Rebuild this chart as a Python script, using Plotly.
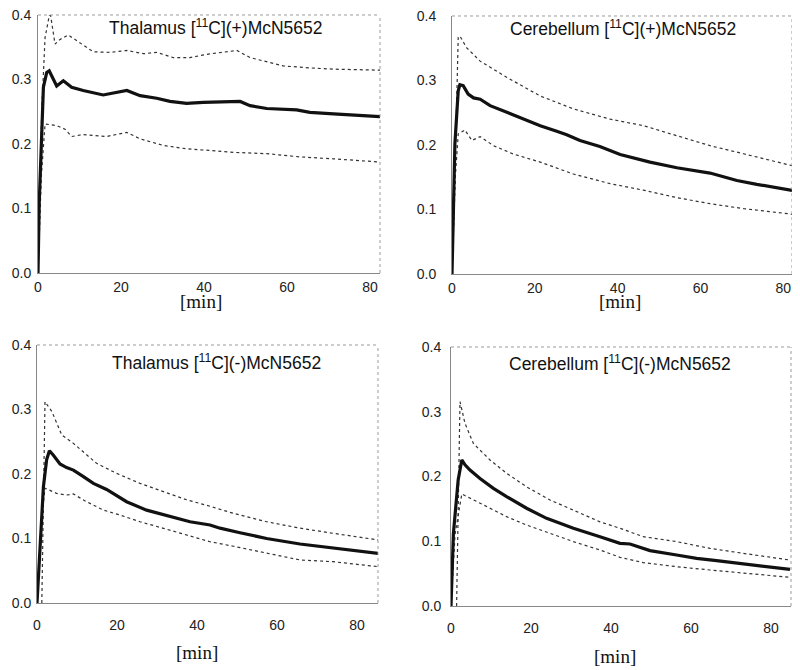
import plotly.graph_objects as go

# ---------------- data ----------------
# Thalamus [11C](+)McN5652
th_p_mean_x = [0, 0.3, 0.9, 1.3, 2.1, 2.7, 4.5, 6.1, 8.1, 10.9, 15.7, 19.0, 21.4, 24.6, 28.6, 31.8, 35.8, 39.8, 47.1, 48.7, 51.1, 55.1, 62.3, 65.5, 71.2, 76.8, 82.4]
th_p_mean_y = [0, 0.11, 0.216, 0.288, 0.311, 0.3135, 0.290, 0.298, 0.288, 0.283, 0.276, 0.280, 0.283, 0.275, 0.271, 0.266, 0.263, 0.2646, 0.266, 0.266, 0.2595, 0.255, 0.253, 0.249, 0.2466, 0.244, 0.2425]
th_p_up_x = [0, 0.9, 1.7, 2.9, 4.1, 5.3, 7.3, 9.3, 13.3, 17.3, 21.4, 25.4, 28.6, 32.6, 36.6, 40.6, 43.9, 47.9, 51.1, 59.1, 65.5, 71.2, 82.4]
th_p_up_y = [0, 0.252, 0.365, 0.405, 0.355, 0.362, 0.369, 0.360, 0.343, 0.342, 0.345, 0.340, 0.342, 0.334, 0.334, 0.339, 0.342, 0.345, 0.334, 0.321, 0.318, 0.316, 0.3145]
th_p_lo_x = [0, 0.8, 1.7, 4.5, 6.5, 8.1, 10.9, 16.5, 21.4, 24.6, 30.2, 35.8, 41.4, 47.1, 55.1, 63.1, 71.2, 82.4]
th_p_lo_y = [0, 0.15, 0.231, 0.2286, 0.223, 0.2116, 0.2147, 0.2116, 0.218, 0.208, 0.1977, 0.1925, 0.190, 0.187, 0.185, 0.180, 0.177, 0.172]

# Cerebellum [11C](+)McN5652
ce_p_mean_x = [0, 0.7, 1.5, 1.9, 2.7, 3.9, 5.2, 6.8, 9.2, 13.2, 17.2, 21.3, 25.3, 27.7, 30.9, 35.7, 40.6, 43.0, 47.8, 54.3, 62.3, 68.8, 73.6, 82.1]
ce_p_mean_y = [0, 0.202, 0.284, 0.2934, 0.292, 0.279, 0.273, 0.271, 0.261, 0.2507, 0.240, 0.230, 0.2214, 0.216, 0.207, 0.1977, 0.1853, 0.181, 0.1735, 0.1647, 0.1565, 0.145, 0.139, 0.1297]
ce_p_up_x = [0, 0.7, 1.5, 1.9, 3.5, 6.8, 13.2, 21.3, 29.3, 38.2, 46.2, 54.3, 62.3, 70.4, 82.1]
ce_p_up_y = [0, 0.15, 0.367, 0.369, 0.351, 0.330, 0.305, 0.276, 0.256, 0.240, 0.230, 0.2147, 0.199, 0.1864, 0.168]
ce_p_lo_x = [0, 0.8, 1.5, 3.1, 4.8, 6.8, 10.0, 14.8, 21.3, 29.3, 38.2, 46.2, 54.3, 62.3, 70.4, 82.1]
ce_p_lo_y = [0, 0.15, 0.217, 0.2234, 0.207, 0.213, 0.199, 0.186, 0.1735, 0.155, 0.140, 0.130, 0.1184, 0.109, 0.1014, 0.0927]

# Thalamus [11C](-)McN5652
th_m_mean_x = [0, 1.6, 2.4, 3.1, 4.1, 5.75, 7.4, 9.1, 11.6, 14.1, 17.4, 19.9, 22.4, 27.4, 33.25, 38.25, 43.25, 45.75, 50.75, 57.4, 65.75, 74.1, 79.9, 85.3]
th_m_mean_y = [0, 0.180, 0.222, 0.236, 0.229, 0.2155, 0.210, 0.206, 0.196, 0.1855, 0.176, 0.166, 0.157, 0.144, 0.134, 0.126, 0.121, 0.116, 0.109, 0.100, 0.0915, 0.0848, 0.081, 0.077]
th_m_up_x = [1.2, 2.0, 3.7, 6.2, 9.1, 14.9, 19.9, 25.75, 31.6, 37.4, 43.25, 49.1, 57.4, 65.75, 74.1, 85.3]
th_m_up_y = [0, 0.312, 0.297, 0.2605, 0.2475, 0.2165, 0.201, 0.1855, 0.1726, 0.160, 0.150, 0.139, 0.126, 0.116, 0.108, 0.0977]
th_m_lo_x = [0, 1.0, 2.0, 4.9, 7.4, 9.1, 12.4, 16.6, 20.75, 25.75, 31.6, 37.4, 43.25, 49.1, 57.4, 65.75, 74.1, 85.3]
th_m_lo_y = [0, 0.12, 0.178, 0.170, 0.1674, 0.169, 0.157, 0.144, 0.1364, 0.126, 0.1158, 0.1054, 0.095, 0.088, 0.077, 0.0667, 0.064, 0.0563]

# Cerebellum [11C](-)McN5652
ce_m_mean_x = [0, 0.6, 1.8, 2.7, 3.5, 4.75, 7.25, 10.6, 13.9, 18.9, 23.9, 30.6, 37.25, 42.25, 44.75, 49.75, 56.4, 61.4, 66.4, 73.1, 78.9, 84.75]
ce_m_mean_y = [0, 0.112, 0.195, 0.2255, 0.218, 0.210, 0.197, 0.1817, 0.169, 0.151, 0.1354, 0.120, 0.107, 0.0968, 0.0958, 0.0855, 0.0788, 0.0736, 0.070, 0.0649, 0.0607, 0.0566]
ce_m_up_x = [1.4, 2.25, 3.5, 5.6, 9.75, 13.9, 18.9, 24.75, 30.6, 37.25, 42.25, 48.1, 56.4, 64.75, 73.1, 84.75]
ce_m_up_y = [0, 0.3156, 0.282, 0.251, 0.2255, 0.205, 0.184, 0.1637, 0.148, 0.130, 0.120, 0.107, 0.0994, 0.089, 0.0813, 0.071]
ce_m_lo_x = [0, 1.0, 2.7, 5.6, 9.75, 13.9, 18.9, 24.75, 30.6, 37.25, 42.25, 48.1, 56.4, 64.75, 73.1, 84.75]
ce_m_lo_y = [0, 0.11, 0.173, 0.1637, 0.151, 0.138, 0.125, 0.112, 0.0994, 0.0865, 0.0752, 0.067, 0.0607, 0.0556, 0.0505, 0.0443]

titles = ["Thalamus [<sup>11</sup>C](+)McN5652", "Cerebellum [<sup>11</sup>C](+)McN5652",
          "Thalamus [<sup>11</sup>C](-)McN5652", "Cerebellum [<sup>11</sup>C](-)McN5652"]
y_ticks = [0.0, 0.1, 0.2, 0.3, 0.4]
x_ticks = [0, 20, 40, 60, 80]
x_label = "[min]"

panels = [
    (th_p_mean_x, th_p_mean_y, th_p_up_x, th_p_up_y, th_p_lo_x, th_p_lo_y),
    (ce_p_mean_x, ce_p_mean_y, ce_p_up_x, ce_p_up_y, ce_p_lo_x, ce_p_lo_y),
    (th_m_mean_x, th_m_mean_y, th_m_up_x, th_m_up_y, th_m_lo_x, th_m_lo_y),
    (ce_m_mean_x, ce_m_mean_y, ce_m_up_x, ce_m_up_y, ce_m_lo_x, ce_m_lo_y),
]

# ---------------- layout geometry ----------------
# (figure is 792x662 so that, with the page's 8px body margin, it fills the 800x670 window)
xdomains = [[0.03788, 0.4697], [0.56061, 0.98990], [0.03662, 0.46717], [0.55934, 0.98864]]
ydomains = [[0.59970, 0.98944], [0.59819, 0.98792], [0.10121, 0.49094], [0.09668, 0.48792]]
xranges = [[0, 82.4], [0, 82.1], [0, 85.25], [0, 85.0]]
xstand = [1, 1, 9, 9]
ystand = [3, 12, 2, 6]
title_pos = [(0.26263, 0.9713), (0.77652, 0.96979), (0.26263, 0.46526), (0.77273, 0.46375)]
label_pos = [(0.2437, 0.5574), (0.7727, 0.5574), (0.2386, 0.02568), (0.7664, 0.01964)]

SANS = "Liberation Sans, Arial, sans-serif"
SERIF = "Liberation Serif, Times New Roman, serif"

fig = go.Figure()
layout = dict(width=792, height=662, margin=dict(l=0, r=0, t=0, b=0),
              paper_bgcolor="white", plot_bgcolor="white", showlegend=False,
              annotations=[], shapes=[])

for i, (mx, my, ux, uy, lx, ly) in enumerate(panels):
    n = "" if i == 0 else str(i + 1)
    xa, ya = "x" + n, "y" + n
    fig.add_trace(go.Scatter(x=ux, y=uy, mode="lines", xaxis=xa, yaxis=ya,
                             line=dict(color="#333333", width=1.2, dash="dot")))
    fig.add_trace(go.Scatter(x=lx, y=ly, mode="lines", xaxis=xa, yaxis=ya,
                             line=dict(color="#333333", width=1.2, dash="dot")))
    fig.add_trace(go.Scatter(x=mx, y=my, mode="lines", xaxis=xa, yaxis=ya,
                             line=dict(color="#111111", width=3.2)))
    layout["xaxis" + n] = dict(domain=xdomains[i], range=xranges[i], anchor=ya,
                               automargin=False, ticklabeloverflow="allow",
                               tickvals=x_ticks, ticks="", showgrid=False, zeroline=False,
                               showline=True, linecolor="#888888", linewidth=1,
                               ticklabelstandoff=xstand[i],
                               tickfont=dict(family=SANS, size=14, color="#222222"))
    layout["yaxis" + n] = dict(domain=ydomains[i], range=[0, 0.4], anchor=xa,
                               automargin=False, ticklabeloverflow="allow",
                               tickvals=y_ticks, tickformat=".1f", ticks="", showgrid=False,
                               zeroline=False, showline=True, linecolor="#888888", linewidth=1,
                               ticklabelstandoff=ystand[i],
                               tickfont=dict(family=SANS, size=14, color="#222222"))
    # dotted top and right frame
    layout["shapes"].append(dict(type="line", xref=xa + " domain", yref=ya + " domain",
                                 x0=0, x1=1, y0=1, y1=1,
                                 line=dict(color="#9a9a9a", width=1, dash="dot")))
    layout["shapes"].append(dict(type="line", xref=xa + " domain", yref=ya + " domain",
                                 x0=1, x1=1, y0=0, y1=1,
                                 line=dict(color="#9a9a9a", width=1, dash="dot")))
    tx, ty = title_pos[i]
    layout["annotations"].append(dict(text=titles[i], xref="paper", yref="paper", x=tx, y=ty,
                                      showarrow=False, xanchor="center", yanchor="middle",
                                      font=dict(family=SANS, size=17.5, color="#111111")))
    lxp, lyp = label_pos[i]
    layout["annotations"].append(dict(text=x_label, xref="paper", yref="paper", x=lxp, y=lyp,
                                      showarrow=False, xanchor="center", yanchor="middle",
                                      font=dict(family=SERIF, size=19, color="#111111")))

fig.update_layout(**layout)
fig.write_html("out.html")
